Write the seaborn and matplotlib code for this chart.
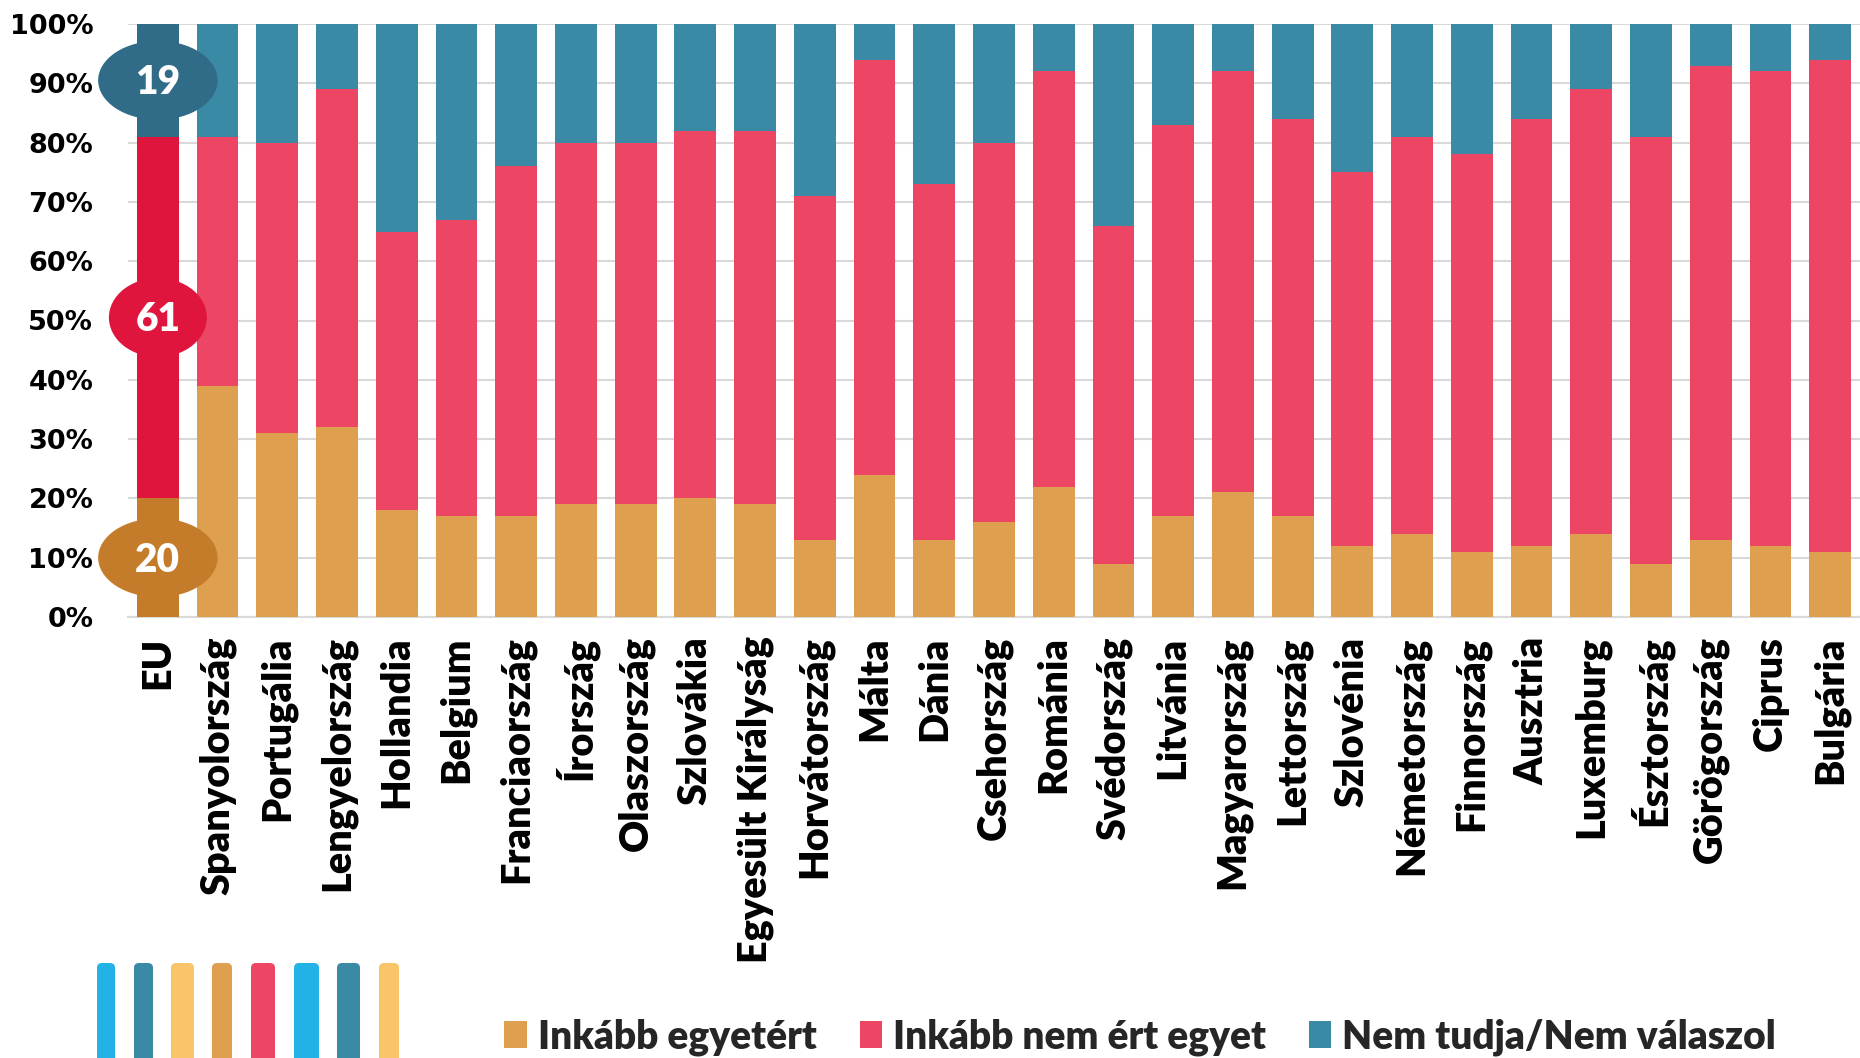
import numpy as np
import pandas as pd
import matplotlib
matplotlib.use("Agg")
import matplotlib.pyplot as plt
from matplotlib.patches import Ellipse, FancyBboxPatch, Patch
import seaborn as sns

# ---------------- data ----------------
countries = ["EU", "Spanyolország", "Portugália", "Lengyelország", "Hollandia", "Belgium",
             "Franciaország", "Írország", "Olaszország", "Szlovákia", "Egyesült Királyság",
             "Horvátország", "Málta", "Dánia", "Csehország", "Románia", "Svédország",
             "Litvánia", "Magyarország", "Lettország", "Szlovénia", "Németország",
             "Finnország", "Ausztria", "Luxemburg", "Észtország", "Görögország",
             "Ciprus", "Bulgária"]
agree = [20, 39, 31, 32, 18, 17, 17, 19, 19, 20, 19, 13, 24, 13, 16, 22, 9, 17, 21, 17,
         12, 14, 11, 12, 14, 9, 13, 12, 11]
disagree = [61, 42, 49, 57, 47, 50, 59, 61, 61, 62, 63, 58, 70, 60, 64, 70, 57, 66, 71, 67,
            63, 67, 67, 72, 75, 72, 80, 80, 83]
dontknow = [19, 19, 20, 11, 35, 33, 24, 20, 20, 18, 18, 29, 6, 27, 20, 8, 34, 17, 8, 16,
            25, 19, 22, 16, 11, 19, 7, 8, 6]
series_names = ["Inkább egyetért", "Inkább nem ért egyet", "Nem tudja/Nem válaszol"]
yticks = [0, 10, 20, 30, 40, 50, 60, 70, 80, 90, 100]

# ---------------- styles ----------------
c_orange, c_red, c_blue = "#DE9F4F", "#EC4664", "#3A89A5"
eu_orange, eu_red, eu_blue = "#C47C2B", "#E0153E", "#306C87"
LABEL_WEIGHT = "heavy"

df = pd.DataFrame({"country": countries, "agree": agree,
                   "disagree": disagree, "dontknow": dontknow})
df["c1"] = df["agree"]
df["c2"] = df["agree"] + df["disagree"]
df["c3"] = df["c2"] + df["dontknow"]

sns.set_theme(style="white")
plt.rcParams["font.family"] = ["Lato", "DejaVu Sans"]

fig = plt.figure(figsize=(18.6, 10.58), dpi=100)
ax = fig.add_axes([128 / 1860, 1 - 617 / 1058, 1 - 128 / 1860, (617 - 24) / 1058])

def pal(eu_c, c):
    return {k: (eu_c if k == "EU" else c) for k in countries}

for col, eu_c, c in [("c3", eu_blue, c_blue), ("c2", eu_red, c_red), ("c1", eu_orange, c_orange)]:
    sns.barplot(data=df, x="country", y=col, hue="country", order=countries,
                hue_order=countries, palette=pal(eu_c, c), width=0.7, saturation=1,
                linewidth=0, legend=False, ax=ax, zorder=3)

ax.set_xlim(-0.5, len(countries) - 0.5)
ax.set_ylim(0, 100)
ax.set_yticks(yticks)
ax.set_yticklabels([f"{v}%" for v in yticks], fontfamily="DejaVu Sans",
                   fontweight="bold", fontsize=19.5)
ax.set_xticks(range(len(countries)))
ax.set_xticklabels(countries, rotation=90, fontweight=LABEL_WEIGHT, fontsize=28.5)
ax.tick_params(axis="y", length=0, pad=25, colors="black")
ax.tick_params(axis="x", length=0, pad=14, colors="black")
ax.set_xlabel("")
ax.set_ylabel("")
ax.grid(axis="y", color="#D9D9D9", linewidth=1.5, zorder=0)
ax.set_axisbelow(True)
for s in ["top", "right", "left"]:
    ax.spines[s].set_visible(False)
ax.spines["bottom"].set_color("#D9D9D9")
ax.spines["bottom"].set_linewidth(1.5)

# EU bubbles (centered on each EU segment)
eu = df.iloc[0]
segs = [(0, eu["agree"], eu_orange, 2.0),
        (eu["agree"], eu["c2"], eu_red, 1.64),
        (eu["c2"], eu["c3"], eu_blue, 2.0)]
for lo, hi, col, w in segs:
    mid = (lo + hi) / 2
    ax.add_patch(Ellipse((0, mid), w, 13.3, facecolor=col, edgecolor="none",
                         zorder=5, clip_on=False))
    ax.annotate(f"{int(hi - lo)}", (0, mid), xytext=(0, -10), textcoords="offset points",
                ha="center", va="baseline", color="white",
                fontsize=28, fontweight=LABEL_WEIGHT, zorder=6)

# legend
handles = [Patch(facecolor=c, edgecolor="none") for c in (c_orange, c_red, c_blue)]
fig.legend(handles, series_names, loc="center", bbox_to_anchor=(0.613, 0.02), ncol=3,
           frameon=False, prop={"family": "Lato", "weight": LABEL_WEIGHT, "size": 28},
           handlelength=0.58, handleheight=0.7, handletextpad=0.28, columnspacing=1.1)

# decorative rounded bars bottom-left
deco = fig.add_axes([0, 0, 1, 1], zorder=-1)
deco.set_xlim(0, 1860)
deco.set_ylim(1058, 0)
deco.axis("off")
deco_spec = [(97, 115, "#23B2E5"), (134, 153, "#3A89A5"), (171, 194, "#FAC46B"),
             (212, 232, "#DE9F4F"), (251, 275, "#EC4664"), (294, 319, "#23B2E5"),
             (337, 360, "#3A89A5"), (379, 399, "#FAC46B")]
for x0, x1, col in deco_spec:
    deco.add_patch(FancyBboxPatch((x0, 963), x1 - x0, 120,
                                  boxstyle="round,pad=0,rounding_size=5",
                                  facecolor=col, edgecolor="none"))

fig.savefig("out.png", dpi=100)
